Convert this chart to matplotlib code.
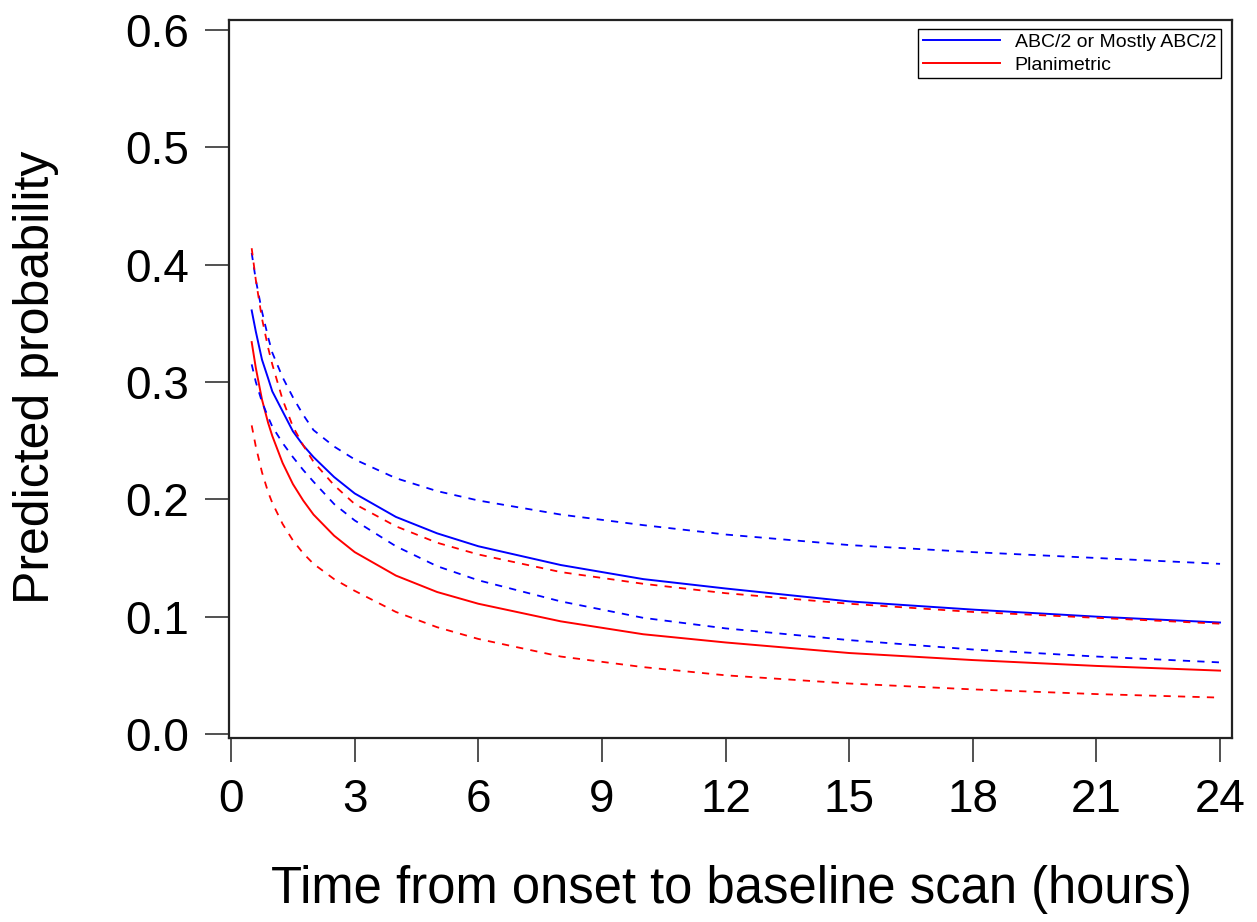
import matplotlib
matplotlib.use("Agg")
import matplotlib.pyplot as plt

plt.rcParams['font.family'] = ['Liberation Sans', 'DejaVu Sans']

# hours from onset to baseline scan
hours = [0.5, 0.6, 0.75, 0.9, 1, 1.25, 1.5, 1.75, 2, 2.5, 3, 4, 5, 6, 8, 10,
         12, 15, 18, 21, 24]

# ABC/2 or Mostly ABC/2 (estimate, lower and upper limits)
abc_fit = [0.361, 0.343, 0.319, 0.303, 0.292, 0.275, 0.258, 0.246, 0.236,
           0.219, 0.205, 0.185, 0.171, 0.160, 0.144, 0.132, 0.124, 0.113,
           0.106, 0.100, 0.095]
abc_lo = [0.315, 0.300, 0.283, 0.270, 0.262, 0.248, 0.236, 0.225, 0.215,
          0.196, 0.182, 0.160, 0.143, 0.131, 0.113, 0.099, 0.090, 0.080,
          0.072, 0.066, 0.061]
abc_hi = [0.410, 0.387, 0.360, 0.338, 0.325, 0.304, 0.287, 0.272, 0.259,
          0.245, 0.234, 0.218, 0.207, 0.199, 0.187, 0.178, 0.170, 0.161,
          0.155, 0.150, 0.145]

# Planimetric
plan_fit = [0.334, 0.312, 0.285, 0.265, 0.254, 0.231, 0.213, 0.199, 0.187,
            0.169, 0.155, 0.135, 0.121, 0.111, 0.096, 0.085, 0.078, 0.069,
            0.063, 0.058, 0.054]
plan_lo = [0.263, 0.245, 0.223, 0.206, 0.197, 0.179, 0.165, 0.154, 0.145,
           0.132, 0.122, 0.104, 0.091, 0.081, 0.066, 0.057, 0.050, 0.043,
           0.038, 0.034, 0.031]
plan_hi = [0.414, 0.387, 0.354, 0.329, 0.315, 0.285, 0.262, 0.246, 0.232,
           0.212, 0.196, 0.177, 0.163, 0.153, 0.138, 0.128, 0.120, 0.111,
           0.104, 0.099, 0.094]

xticks = [0, 3, 6, 9, 12, 15, 18, 21, 24]
yticks = [0.0, 0.1, 0.2, 0.3, 0.4, 0.5, 0.6]

fig = plt.figure(figsize=(12.57, 9.22), dpi=100)
ax = fig.add_axes([0.1822, 0.1996, 0.7979, 0.7787])

dash = (0, (4, 4))
ax.plot(hours, abc_fit, color='#0000ff', lw=1.4, label='ABC/2 or Mostly ABC/2')
ax.plot(hours, plan_fit, color='#ff0000', lw=1.4, label='Planimetric')
ax.plot(hours, abc_lo, color='#0000ff', lw=1.3, ls=dash)
ax.plot(hours, abc_hi, color='#0000ff', lw=1.3, ls=dash)
ax.plot(hours, plan_lo, color='#ff0000', lw=1.3, ls=dash)
ax.plot(hours, plan_hi, color='#ff0000', lw=1.3, ls=dash)

ax.set_xlim(-0.05, 24.29)
ax.set_ylim(-0.0034, 0.6085)
ax.set_xticks(xticks)
ax.set_xticklabels([str(v) for v in xticks])
ax.set_yticks(yticks)
ax.set_yticklabels(['%.1f' % v for v in yticks])

for s in ax.spines.values():
    s.set_linewidth(1.6)
    s.set_color('#222222')
ax.tick_params(direction='out', length=17, width=1.1, labelsize=33, pad=12, color='#222222')

ax.set_xlabel('Time from onset to baseline scan (hours)', fontsize=36.5)
ax.set_ylabel('Predicted probability', fontsize=36)
ax.xaxis.set_label_coords(0.5005, -0.177)
ax.yaxis.set_label_coords(-0.170, 0.502)

leg = ax.legend(loc='upper right', bbox_to_anchor=(0.989, 0.9875), borderaxespad=0,
                fontsize=14, fancybox=False, framealpha=1, edgecolor='black',
                handlelength=4.0, handletextpad=0.74, borderpad=0.24, labelspacing=0.24)
leg.get_frame().set_linewidth(1.0)

fig.savefig('out.png', dpi=100)
